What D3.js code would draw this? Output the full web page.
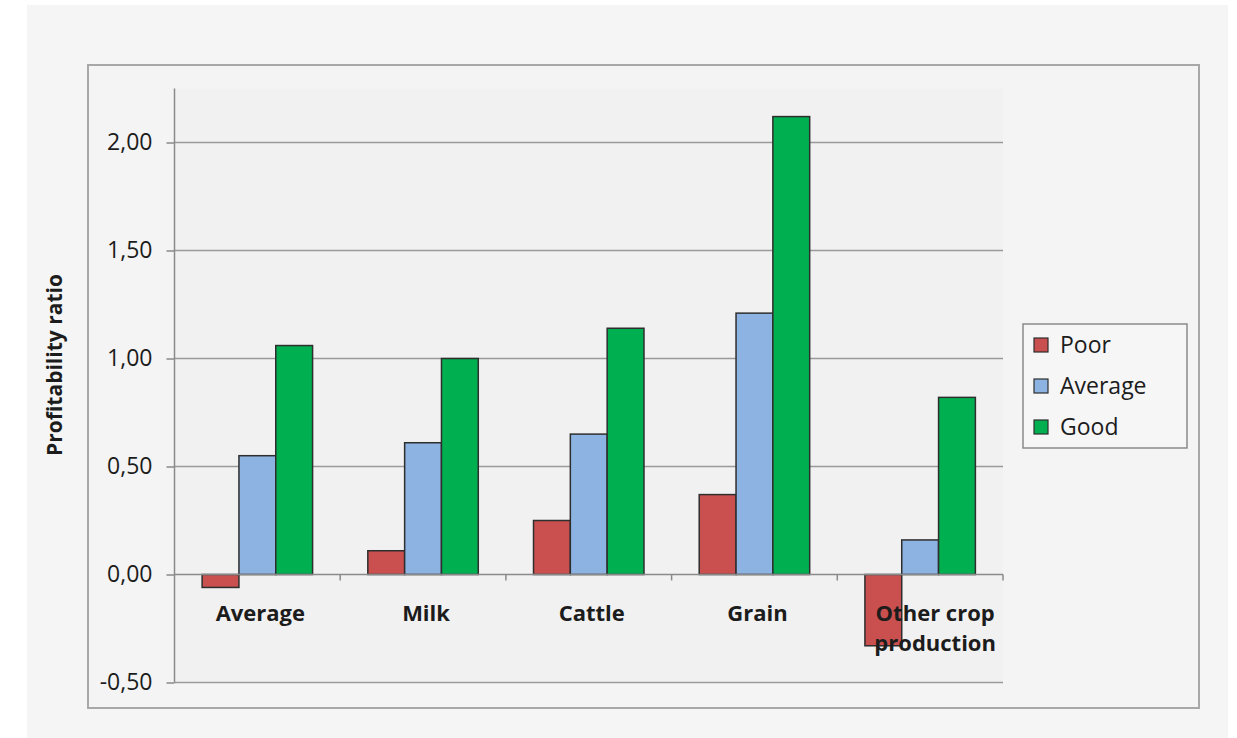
<!DOCTYPE html>
<html>
<head>
<meta charset="utf-8">
<script src="https://cdn.jsdelivr.net/npm/d3@7"></script>
<style>
  html, body { margin: 0; padding: 0; background: #ffffff; }
  svg { display: block; }
  text { font-family: "Open Sans", "Liberation Sans", sans-serif; fill: #1c1c1c; }
</style>
</head>
<body>
<svg id="chart" width="1237" height="738"></svg>
<script>
// Profitability ratio by production line and performance group
const categories = ["Average", "Milk", "Cattle", "Grain", "Other crop production"];
const seriesNames = ["Poor", "Average", "Good"];
const poorValues = [-0.06, 0.11, 0.25, 0.37, -0.33];
const averageValues = [0.55, 0.61, 0.65, 1.21, 0.16];
const goodValues = [1.06, 1.00, 1.14, 2.12, 0.82];
const yTicks = [-0.5, 0, 0.5, 1.0, 1.5, 2.0];
const seriesColors = ["#c9504f", "#8db3e2", "#00b050"];

const seriesValues = [poorValues, averageValues, goodValues];

const svg = d3.select("#chart");

// page backdrop and chart frame
svg.append("rect").attr("x", 27).attr("y", 5).attr("width", 1201).attr("height", 733).attr("fill", "#f5f5f5");
svg.append("rect").attr("x", 88).attr("y", 65).attr("width", 1111).attr("height", 643)
  .attr("fill", "#f4f4f4").attr("stroke", "#a8a8a8").attr("stroke-width", 2);

const plot = { left: 174.5, right: 1003, top: 88.5, bottom: 682.5 };

const x = d3.scaleBand().domain(categories).range([plot.left, plot.right]).padding(0);
const inner = d3.scaleBand().domain(seriesNames)
  .range([x.bandwidth() / 6, x.bandwidth() * 5 / 6]).padding(0);
const y = d3.scaleLinear().domain([-0.5, 2.25]).range([plot.bottom, plot.top]);

// plot area
svg.append("rect").attr("x", plot.left).attr("y", plot.top)
  .attr("width", plot.right - plot.left).attr("height", plot.bottom - plot.top)
  .attr("fill", "#f1f1f1");

// horizontal gridlines
svg.append("g").selectAll("line").data(yTicks.filter(d => d !== 0)).join("line")
  .attr("x1", plot.left).attr("x2", plot.right)
  .attr("y1", d => y(d)).attr("y2", d => y(d))
  .attr("stroke", "#9a9a9a").attr("stroke-width", 1.5);

// y axis, decimal comma and plain hyphen for negatives
const yAxis = d3.axisLeft(y).tickValues(yTicks).tickSize(8).tickPadding(14)
  .tickFormat(d => d.toFixed(2).replace(".", ","));
const yG = svg.append("g").attr("transform", `translate(${plot.left},0)`).call(yAxis);
yG.select(".domain").attr("stroke", "#8a8a8a").attr("stroke-width", 1.5)
  .attr("d", `M0,${plot.top}V${plot.bottom}`);
yG.selectAll(".tick line").attr("stroke", "#8a8a8a").attr("stroke-width", 1.5);
yG.selectAll(".tick text").attr("font-size", 23).attr("fill", "#222")
  .style("font-family", "'Open Sans', sans-serif");

// bars
const groups = svg.append("g").selectAll("g").data(categories).join("g")
  .attr("transform", d => `translate(${x(d)},0)`);
groups.selectAll("rect")
  .data((c, i) => seriesNames.map((s, j) => ({ s, v: seriesValues[j][i], color: seriesColors[j] })))
  .join("rect")
  .attr("x", d => inner(d.s))
  .attr("width", inner.bandwidth())
  .attr("y", d => y(Math.max(0, d.v)))
  .attr("height", d => Math.abs(y(d.v) - y(0)))
  .attr("fill", d => d.color)
  .attr("stroke", "#2e2e2e").attr("stroke-width", 1.5);

// x axis along zero
const xAxisG = svg.append("g").attr("transform", `translate(0,${y(0)})`);
xAxisG.append("line").attr("x1", plot.left).attr("x2", plot.right)
  .attr("stroke", "#8a8a8a").attr("stroke-width", 1.5);
xAxisG.selectAll("line.tk").data(categories).join("line").attr("class", "tk")
  .attr("x1", d => x(d) + x.bandwidth()).attr("x2", d => x(d) + x.bandwidth())
  .attr("y1", 0).attr("y2", 6)
  .attr("stroke", "#8a8a8a").attr("stroke-width", 1.5);

// category labels, wrapped on two lines when long
const labelG = svg.append("g");
categories.forEach(c => {
  const words = c.split(" ");
  const wrapped = words.length > 2;
  const lines = wrapped ? [words.slice(0, 2).join(" "), words.slice(2).join(" ")] : [c];
  const cx = x(c) + x.bandwidth() / 2 + (wrapped ? 15 : 3);
  const t = labelG.append("text")
    .attr("x", cx)
    .attr("y", y(0) + 46)
    .attr("text-anchor", "middle")
    .attr("font-size", 22).attr("font-weight", "bold");
  lines.forEach((l, i) => {
    t.append("tspan").attr("x", cx).attr("dy", i === 0 ? 0 : 30).text(l);
  });
});

// y axis title
svg.append("text")
  .attr("transform", `translate(62,365) rotate(-90)`)
  .attr("text-anchor", "middle")
  .attr("font-size", 21).attr("font-weight", "bold")
  .text("Profitability ratio");

// legend
const legend = svg.append("g");
legend.append("rect").attr("x", 1023).attr("y", 324).attr("width", 164).attr("height", 124)
  .attr("fill", "#f6f6f6").attr("stroke", "#8a8a8a").attr("stroke-width", 1.5);
const legendItems = legend.selectAll("g.item").data(seriesNames).join("g").attr("class", "item")
  .attr("transform", (d, i) => `translate(1034,${345 + i * 41})`);
legendItems.append("rect").attr("x", 0).attr("y", -7).attr("width", 14).attr("height", 14)
  .attr("fill", (d, i) => seriesColors[i]).attr("stroke", "#2e2e2e").attr("stroke-width", 1.2);
legendItems.append("text").attr("x", 26).attr("y", 0).attr("dy", "0.35em")
  .attr("font-size", 23).text(d => d);
</script>
</body>
</html>
